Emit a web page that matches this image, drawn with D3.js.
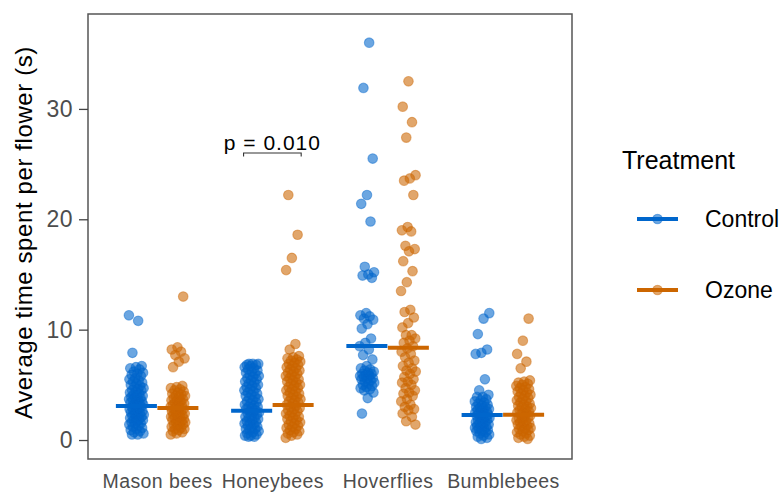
<!DOCTYPE html>
<html>
<head>
<meta charset="utf-8">
<script src="https://cdn.jsdelivr.net/npm/d3@7"></script>
<style>
  html, body { margin: 0; padding: 0; background: #ffffff; }
  svg { display: block; font-family: "Liberation Sans", Arial, Helvetica, sans-serif; }
</style>
</head>
<body>
<svg id="chart" width="782" height="492"></svg>
<script>
// Pollinator groups on the x axis
const categories = ["Mason bees", "Honeybees", "Hoverflies", "Bumblebees"];
const treatments = ["Control", "Ozone"];

// Average time spent per flower (s), one value per visitor
const masonControl = [11.3, 10.8, 7.9, 6.7, 6.6, 6.5, 6.4, 6.2, 6.1, 6.0, 5.9, 5.8, 5.6, 5.5, 5.4, 5.3, 5.2, 5.1, 5.0, 4.9, 4.8, 4.7, 4.6, 4.5, 4.5, 4.4, 4.3, 4.2, 4.1, 4.0, 4.0, 3.9, 3.8, 3.8, 3.7, 3.6, 3.6, 3.5, 3.4, 3.4, 3.3, 3.2, 3.2, 3.1, 3.0, 3.0, 2.9, 2.8, 2.8, 2.7, 2.6, 2.6, 2.5, 2.4, 2.4, 2.3, 2.2, 2.2, 2.1, 2.0, 2.0, 1.9, 1.8, 1.8, 1.7, 1.6, 1.5, 1.5, 1.4, 1.3, 1.2, 1.1, 1.0, 0.9, 0.8, 0.7, 0.6, 0.5, 0.5];
const masonOzone = [13.0, 8.4, 8.2, 8.0, 7.7, 7.4, 7.1, 6.6, 4.9, 4.8, 4.7, 4.6, 4.5, 4.4, 4.3, 4.2, 4.1, 4.0, 4.0, 3.9, 3.8, 3.7, 3.6, 3.6, 3.5, 3.4, 3.3, 3.3, 3.2, 3.1, 3.0, 3.0, 2.9, 2.8, 2.8, 2.7, 2.6, 2.6, 2.5, 2.4, 2.4, 2.3, 2.2, 2.2, 2.1, 2.0, 2.0, 1.9, 1.8, 1.8, 1.7, 1.6, 1.6, 1.5, 1.4, 1.4, 1.3, 1.2, 1.1, 1.0, 1.0, 0.9, 0.8, 0.7, 0.6, 0.5];
const honeyControl = [6.9, 6.9, 6.9, 6.8, 6.8, 6.7, 6.6, 6.5, 6.4, 6.3, 6.2, 6.1, 6.0, 5.9, 5.8, 5.7, 5.6, 5.5, 5.4, 5.3, 5.2, 5.1, 5.0, 4.9, 4.8, 4.7, 4.6, 4.5, 4.4, 4.3, 4.2, 4.1, 4.0, 3.9, 3.8, 3.7, 3.6, 3.5, 3.4, 3.3, 3.2, 3.1, 3.0, 3.0, 2.9, 2.8, 2.7, 2.6, 2.5, 2.5, 2.4, 2.3, 2.2, 2.1, 2.0, 2.0, 1.9, 1.8, 1.7, 1.6, 1.5, 1.5, 1.4, 1.3, 1.2, 1.1, 1.0, 1.0, 0.9, 0.8, 0.7, 0.6, 0.5, 0.4, 0.4, 0.3, 0.3];
const honeyOzone = [22.2, 18.6, 16.5, 15.4, 8.7, 8.2, 7.6, 7.5, 7.4, 7.3, 7.2, 7.1, 7.0, 6.9, 6.8, 6.7, 6.6, 6.5, 6.4, 6.3, 6.2, 6.1, 6.0, 5.9, 5.8, 5.7, 5.6, 5.5, 5.4, 5.3, 5.2, 5.1, 5.0, 4.9, 4.8, 4.7, 4.6, 4.5, 4.4, 4.3, 4.2, 4.1, 4.0, 3.9, 3.8, 3.7, 3.6, 3.5, 3.4, 3.3, 3.2, 3.1, 3.0, 2.9, 2.8, 2.7, 2.6, 2.5, 2.4, 2.3, 2.2, 2.1, 2.0, 1.9, 1.8, 1.7, 1.6, 1.5, 1.4, 1.3, 1.2, 1.1, 1.0, 0.9, 0.8, 0.7, 0.6, 0.5, 0.4, 0.2];
const hoverControl = [36.0, 31.9, 25.5, 22.2, 21.4, 19.8, 15.7, 15.2, 15.0, 14.9, 14.7, 11.5, 11.3, 11.2, 11.0, 10.9, 10.5, 10.1, 9.2, 8.8, 8.5, 8.2, 7.7, 7.3, 6.7, 6.5, 6.4, 6.3, 6.2, 6.1, 6.0, 6.0, 5.9, 5.8, 5.8, 5.7, 5.6, 5.5, 5.5, 5.4, 5.3, 5.2, 5.1, 5.0, 4.9, 4.8, 4.7, 4.6, 4.5, 4.3, 3.8, 2.4];
const hoverOzone = [32.5, 30.2, 28.8, 27.4, 24.0, 23.7, 23.5, 22.2, 19.3, 19.0, 18.9, 17.6, 17.3, 17.1, 16.2, 15.3, 14.3, 13.5, 11.8, 11.6, 11.1, 10.6, 10.2, 9.5, 9.5, 9.2, 9.0, 8.8, 8.5, 8.3, 8.0, 7.8, 7.5, 7.2, 7.0, 6.7, 6.5, 6.3, 6.2, 6.0, 5.7, 5.5, 5.3, 5.2, 5.0, 4.7, 4.5, 4.3, 4.2, 4.0, 3.7, 3.5, 3.2, 3.0, 2.8, 2.7, 2.4, 2.1, 1.7, 1.4];
const bumbleControl = [11.5, 11.0, 9.6, 8.2, 7.9, 7.8, 5.5, 4.5, 4.1, 3.9, 3.9, 3.7, 3.6, 3.5, 3.4, 3.3, 3.2, 3.1, 3.0, 3.0, 2.9, 2.8, 2.8, 2.7, 2.6, 2.6, 2.5, 2.4, 2.4, 2.3, 2.2, 2.2, 2.1, 2.0, 2.0, 1.9, 1.8, 1.8, 1.7, 1.6, 1.6, 1.5, 1.4, 1.4, 1.3, 1.2, 1.2, 1.1, 1.0, 1.0, 0.9, 0.8, 0.8, 0.7, 0.6, 0.5, 0.4, 0.3, 0.2, 0.1];
const bumbleOzone = [11.0, 9.0, 7.8, 7.1, 6.5, 5.4, 5.3, 5.2, 5.1, 5.0, 4.9, 4.8, 4.7, 4.6, 4.5, 4.4, 4.3, 4.2, 4.1, 4.0, 3.9, 3.8, 3.7, 3.6, 3.5, 3.4, 3.3, 3.2, 3.1, 3.0, 3.0, 2.9, 2.8, 2.7, 2.6, 2.5, 2.5, 2.4, 2.3, 2.2, 2.1, 2.0, 2.0, 1.9, 1.8, 1.7, 1.6, 1.5, 1.5, 1.4, 1.3, 1.2, 1.1, 1.0, 1.0, 0.9, 0.8, 0.7, 0.6, 0.5, 0.4, 0.3, 0.2, 0.1];

// Group means shown as horizontal bars
const meanControl = [3.08, 2.66, 8.52, 2.27];
const meanOzone = [2.90, 3.17, 8.37, 2.30];

// Y axis ticks and limits
const yTicks = [0, 10, 20, 30];
const yLimits = [-1.72, 38.6];

// Significance annotation
const pCategory = "Honeybees";
const pLabel = "p = 0.010";
const pLevel = 26.0;

const colors = { Control: "#0066CC", Ozone: "#CC6600" };

const seriesByTreatment = {
  Control: [masonControl, honeyControl, hoverControl, bumbleControl],
  Ozone: [masonOzone, honeyOzone, hoverOzone, bumbleOzone]
};
const meansByTreatment = { Control: meanControl, Ozone: meanOzone };

// Panel geometry
const panel = { left: 88, top: 14, right: 572, bottom: 459 };

const svg = d3.select("#chart");

const x = d3.scalePoint()
  .domain(categories)
  .range([panel.left, panel.right])
  .padding(0.6);
const step = x.step();
const dodge = d3.scalePoint().domain(treatments).range([-0.18 * step, 0.18 * step]);
const halfBar = 0.178 * step;

const y = d3.scaleLinear().domain(yLimits).range([panel.bottom, panel.top]);

// Deterministic horizontal spread for overlapping points
const jitter = i => (((i * 0.6180339887) % 1) - 0.5) * 15;

const pointStyle = (sel, t) => sel
  .attr("r", 4.8)
  .attr("fill", colors[t])
  .attr("fill-opacity", 0.58)
  .attr("stroke", colors[t])
  .attr("stroke-opacity", 0.45)
  .attr("stroke-width", 1.1);

const gPoints = svg.append("g");
treatments.forEach(t => {
  categories.forEach((c, ci) => {
    const vals = seriesByTreatment[t][ci];
    gPoints.selectAll(null)
      .data(vals)
      .join("circle")
      .attr("cx", (d, i) => x(c) + dodge(t) + jitter(i + ci * 7 + (t === "Ozone" ? 3 : 0)))
      .attr("cy", d => y(d))
      .call(pointStyle, t);
  });
});

// Mean bars
const gMeans = svg.append("g");
treatments.forEach(t => {
  gMeans.selectAll(null)
    .data(categories.map((c, i) => ({ c, v: meansByTreatment[t][i] })))
    .join("line")
    .attr("x1", d => x(d.c) + dodge(t) - halfBar)
    .attr("x2", d => x(d.c) + dodge(t) + halfBar)
    .attr("y1", d => y(d.v))
    .attr("y2", d => y(d.v))
    .attr("stroke", colors[t])
    .attr("stroke-width", 4);
});

// Panel border
svg.append("rect")
  .attr("x", panel.left)
  .attr("y", panel.top)
  .attr("width", panel.right - panel.left)
  .attr("height", panel.bottom - panel.top)
  .attr("fill", "none")
  .attr("stroke", "#555555")
  .attr("stroke-width", 1.5);

// Y axis
const yAxis = d3.axisLeft(y).tickValues(yTicks).tickSize(9).tickPadding(6);
const gy = svg.append("g")
  .attr("transform", `translate(${panel.left},0)`)
  .call(yAxis);
gy.select(".domain").remove();
gy.selectAll(".tick line").attr("stroke", "#444444").attr("stroke-width", 1.3);
gy.selectAll(".tick text")
  .attr("fill", "#4D4D4D")
  .style("font-size", "23px")
  .style("letter-spacing", "0.5px")
  .style("font-family", "'Liberation Sans', Arial, sans-serif");

// X axis labels
const xAxis = d3.axisBottom(x).tickSize(0).tickPadding(0);
const gx = svg.append("g")
  .attr("transform", `translate(0,${panel.bottom})`)
  .call(xAxis);
gx.select(".domain").remove();
gx.selectAll(".tick text")
  .attr("fill", "#4D4D4D")
  .attr("y", 29)
  .attr("dy", 0)
  .style("font-size", "19.5px")
  .style("letter-spacing", "0.4px")
  .style("font-family", "'Liberation Sans', Arial, sans-serif");

// Y axis title
svg.append("text")
  .attr("transform", `translate(32,${(panel.top + panel.bottom) / 2 - 4}) rotate(-90)`)
  .attr("text-anchor", "middle")
  .attr("fill", "#000")
  .style("font-size", "24px")
  .style("letter-spacing", "0.6px")
  .text("Average time spent per flower (s)");

// Significance bracket
const bx1 = x(pCategory) - 0.25 * step;
const bx2 = x(pCategory) + 0.25 * step;
svg.append("path")
  .attr("d", `M${bx1},${y(pLevel) + 3.5}V${y(pLevel)}H${bx2}V${y(pLevel) + 3.5}`)
  .attr("fill", "none")
  .attr("stroke", "#333333")
  .attr("stroke-width", 1.1);
svg.append("text")
  .attr("x", x(pCategory))
  .attr("y", y(pLevel) - 3)
  .attr("text-anchor", "middle")
  .attr("fill", "#000")
  .style("font-size", "21px")
  .style("letter-spacing", "1px")
  .text(pLabel);

// Legend
const legend = svg.append("g");
legend.append("text")
  .attr("x", 622)
  .attr("y", 169)
  .attr("fill", "#000")
  .style("font-size", "25px")
  .text("Treatment");
const legendRows = d3.scalePoint().domain(treatments).range([219, 290]);
treatments.forEach(t => {
  const ly = legendRows(t);
  legend.append("line")
    .attr("x1", 637).attr("x2", 678)
    .attr("y1", ly).attr("y2", ly)
    .attr("stroke", colors[t])
    .attr("stroke-width", 4);
  legend.append("circle")
    .attr("cx", 657.5).attr("cy", ly)
    .call(pointStyle, t);
  legend.append("text")
    .attr("x", 705)
    .attr("y", ly + 8)
    .attr("fill", "#000")
    .style("font-size", "23px")
    .text(t);
});
</script>
</body>
</html>
